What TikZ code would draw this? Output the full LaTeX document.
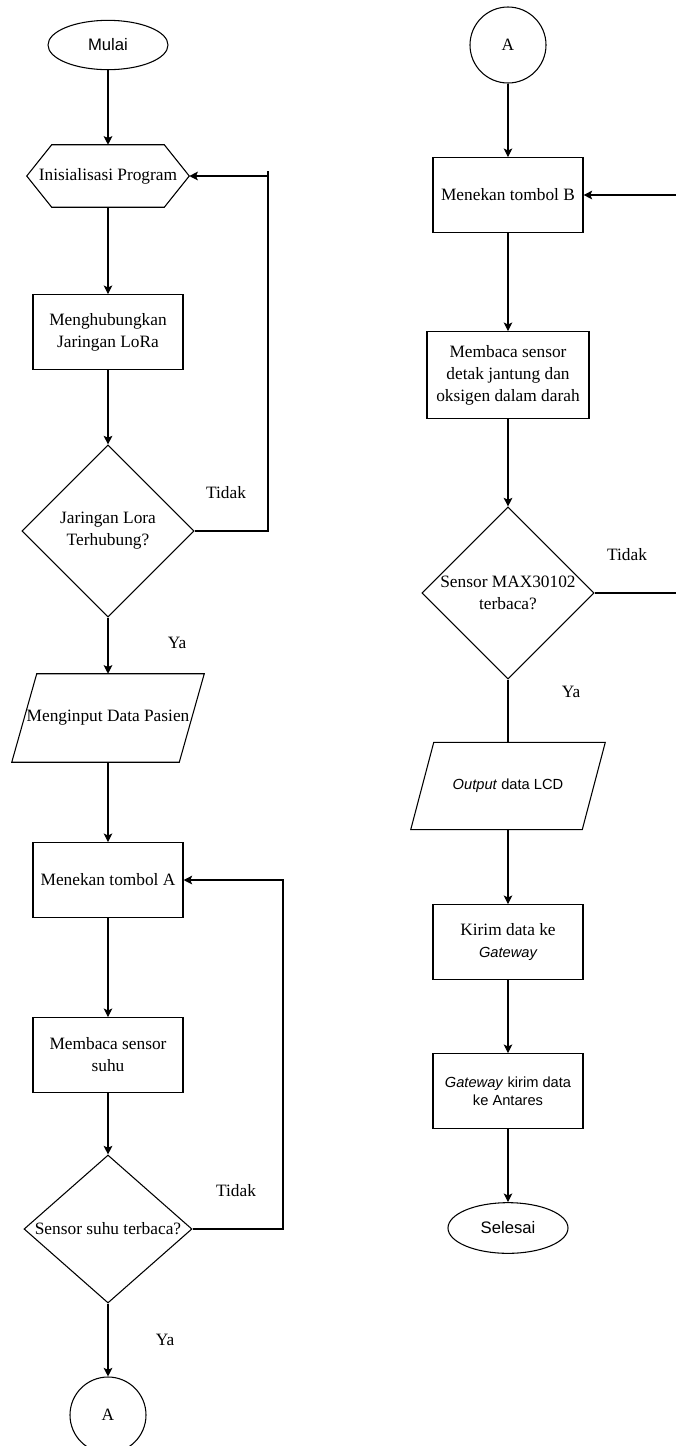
\documentclass[tikz,border=0pt]{standalone}
\usepackage{fontspec}
\setmainfont{Liberation Serif}
\setsansfont{Liberation Sans}
\usepackage{tikz}
\usetikzlibrary{arrows.meta}
\usetikzlibrary{shapes.geometric}
\usetikzlibrary{calc}
\tikzset{>={Stealth[length=6.5pt,width=6.5pt,inset=1.5pt]}}
\newcommand\serif{\fontsize{13}{16.5}\selectfont}
\newcommand\sans{\sffamily\fontsize{11}{13.5}\selectfont}
\newcommand\hexframe[2]{\draw[line width=0.8pt] (#1.west) -- ($(#1.north west)+(#2,0)$) -- ($(#1.north east)+(-#2,0)$)
        -- (#1.east) -- ($(#1.south east)+(-#2,0)$) -- ($(#1.south west)+(#2,0)$) -- cycle;}
\newcommand\slantframe[2]{\draw[line width=0.8pt] (#1.south west) -- ($(#1.north west)+(#2,0)$) -- (#1.north east)
        -- ($(#1.south east)+(-#2,0)$) -- cycle;}
\tikzstyle{term}=[ellipse,draw,line width=0.8pt,minimum width=90pt,minimum height=37pt,inner sep=0pt,font=\sffamily\fontsize{12.5}{15}\selectfont]
\tikzstyle{proc}=[rectangle,draw,line width=0.8pt,minimum width=112.5pt,minimum height=56pt,inner sep=2pt,align=center,font=\serif]
\tikzstyle{prep}=[rectangle,minimum width=121.5pt,minimum height=46.5pt,inner sep=0pt,font=\serif]
\tikzstyle{cond}=[diamond,draw,line width=0.8pt,minimum width=129pt,minimum height=129pt,inner sep=0pt]
\tikzstyle{inout}=[rectangle,minimum width=144pt,minimum height=66pt,inner sep=0pt,align=center,font=\serif]
\tikzstyle{joint}=[circle,draw,line width=0.8pt,minimum size=57pt,inner sep=0pt,font=\serif]
\tikzstyle{txt}=[align=center,font=\serif]
\tikzstyle{flow}=[->,line width=0.8pt]

\begin{document}
\begin{tikzpicture}[x=0.75pt,y=-0.75pt]
  \useasboundingbox (0,0) rectangle (675,1446);
  \node[term] (mulai) at (108,45) {Mulai};
  \node[prep] (init) at (108,176) {Inisialisasi Program};
  \hexframe{init}{25}
  \node[proc] (lora) at (108,332) {Menghubungkan\\Jaringan LoRa};
  \node[cond] (cek1) at (108,531) {};
  \node[txt] (cek1t) at (cek1) {Jaringan Lora\\Terhubung?};
  \node[inout] (pasien) at (108,718) {Menginput Data Pasien};
  \slantframe{pasien}{25}
  \node[proc] (tombolA) at (108,880) {Menekan tombol A};
  \node[proc] (suhu) at (108,1055) {Membaca sensor\\suhu};
  \node[cond,minimum width=126pt,minimum height=111pt] (cek2) at (108,1229) {};
  \node[txt] (cek2t) at (cek2) {Sensor suhu terbaca?};
  \node[joint] (A1) at (108,1415) {A};
  \node[txt] (tidak1) at (226,493) {Tidak};
  \node[txt] (ya1) at (177,643) {Ya};
  \node[txt] (tidak2) at (236,1191) {Tidak};
  \node[txt] (ya2) at (165,1340) {Ya};

  \node[joint] (A2) at (508,45) {A};
  \node[proc] (tombolB) at (508,195) {Menekan tombol B};
  \node[proc,minimum width=121.5pt,minimum height=65pt] (jantung) at (508,375) {Membaca sensor\\detak jantung dan\\oksigen dalam darah};
  \node[cond] (cek3) at (508,593) {};
  \node[txt] (cek3t) at (cek3) {Sensor MAX30102\\terbaca?};
  \node[inout,minimum width=145.5pt,minimum height=65pt,font=\sans] (lcd) at (508,786) {\textit{Output} data LCD};
  \slantframe{lcd}{23}
  \node[proc] (kirim) at (508,942) {Kirim data ke\\{\sans\itshape Gateway}};
  \node[proc,font=\sans] (antares) at (508,1091) {\textit{Gateway} kirim data\\ke Antares};
  \node[term,minimum height=38pt] (selesai) at (508,1228) {Selesai};
  \node[txt] (tidak3) at (627,555) {Tidak};
  \node[txt] (ya3) at (571,692) {Ya};

  \draw[flow] (mulai) -- (init);
  \draw[flow] (init) -- (lora);
  \draw[flow] (lora) -- (cek1);
  \draw[flow] (cek1) -- (pasien);
  \draw[flow] (pasien) -- (tombolA);
  \draw[flow] (tombolA) -- (suhu);
  \draw[flow] (suhu) -- (cek2);
  \draw[flow] (cek2) -- (A1);
  \coordinate (k1) at (268,171);
  \draw[line width=0.8pt] (cek1.east) -| (k1);
  \draw[flow] (k1 |- init.east) -- (init.east);
  \coordinate (k2) at (283,0);
  \draw[flow] (cek2.east) -| (k2 |- tombolA.east) -- (tombolA.east);

  \draw[flow] (A2) -- (tombolB);
  \draw[flow] (tombolB) -- (jantung);
  \draw[flow] (jantung) -- (cek3);
  \draw[line width=0.8pt] (cek3) -- (lcd);
  \draw[flow] (lcd) -- (kirim);
  \draw[flow] (kirim) -- (antares);
  \draw[flow] (antares) -- (selesai);
  \coordinate (k3) at (678,0);
  \draw[flow] (cek3.east) -| (k3 |- tombolB.east) -- (tombolB.east);
\end{tikzpicture}
\end{document}
